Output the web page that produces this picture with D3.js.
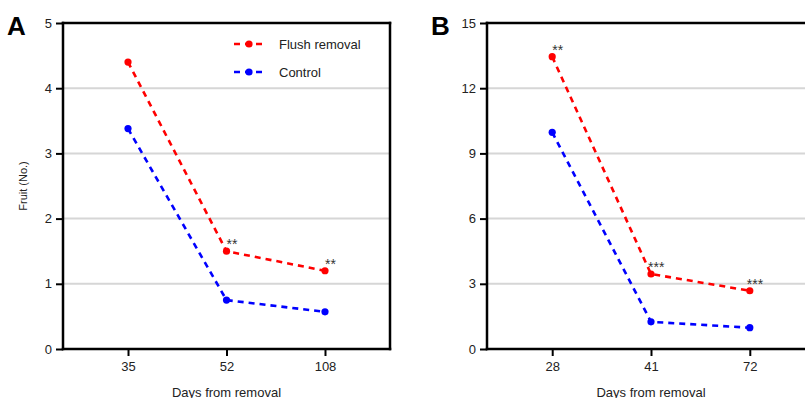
<!DOCTYPE html>
<html>
<head>
<meta charset="utf-8">
<script src="https://cdn.jsdelivr.net/npm/d3@7"></script>
<style>
  html, body { margin: 0; padding: 0; background: #fff; overflow: hidden; }
  svg { display: block; font-family: 'Liberation Sans', Arial, sans-serif; }
</style>
</head>
<body>
<svg id="chart" width="805" height="398"></svg>
<script>
// Panel A data
const daysA = ['35', '52', '108'];
const flushA = [4.4, 1.5, 1.2];
const controlA = [3.38, 0.75, 0.57];
const starsA = ['', '**', '**'];
const ticksA = [0, 1, 2, 3, 4, 5];

// Panel B data
const daysB = ['28', '41', '72'];
const flushB = [13.45, 3.45, 2.68];
const controlB = [9.97, 1.25, 0.98];
const starsB = ['**', '***', '***'];
const ticksB = [0, 3, 6, 9, 12, 15];

const seriesNames = ['Flush removal', 'Control'];
const colors = ['#ff0000', '#0000ff'];

const svg = d3.select('#chart');

function drawPanel(opts) {
  const { left, right, top, bottom, days, series, stars, ticks, yMax, letter, showYLabel, showRight, legend } = opts;

  const g = svg.append('g');

  const x = d3.scalePoint()
    .domain(days)
    .range([left, right])
    .padding(0.66);

  const y = d3.scaleLinear()
    .domain([0, yMax])
    .range([bottom, top]);

  const gridRight = showRight ? right : 810;

  // Grid lines
  g.append('g')
    .selectAll('line')
    .data(ticks.filter((t) => t > 0))
    .enter().append('line')
    .attr('x1', left)
    .attr('x2', gridRight)
    .attr('y1', (d) => y(d))
    .attr('y2', (d) => y(d))
    .attr('stroke', '#d6d6d6')
    .attr('stroke-width', 2);

  // Y axis
  const yAxis = d3.axisLeft(y).tickValues(ticks).tickFormat(d3.format('d')).tickSize(7).tickPadding(4);
  const yg = g.append('g')
    .attr('transform', 'translate(' + left + ',0)')
    .call(yAxis);
  yg.select('.domain').remove();
  yg.selectAll('.tick line').attr('stroke', '#000').attr('stroke-width', 2);
  yg.selectAll('.tick text').attr('font-size', 13).attr('fill', '#222')
    .attr('font-family', "'Liberation Sans', Arial, sans-serif");

  // X axis
  const xAxis = d3.axisBottom(x).tickSize(7).tickPadding(6);
  const xg = g.append('g')
    .attr('transform', 'translate(0,' + bottom + ')')
    .call(xAxis);
  xg.select('.domain').remove();
  xg.selectAll('.tick line').attr('stroke', '#000').attr('stroke-width', 2);
  xg.selectAll('.tick text').attr('font-size', 13).attr('fill', '#222')
    .attr('font-family', "'Liberation Sans', Arial, sans-serif");

  // Frame (open on the right when the panel runs off the page)
  const frame = g.append('g')
    .attr('stroke', '#000')
    .attr('stroke-width', 2.5)
    .attr('stroke-linecap', 'square');
  frame.append('line').attr('x1', left).attr('x2', left).attr('y1', top).attr('y2', bottom);
  frame.append('line').attr('x1', left).attr('x2', gridRight).attr('y1', top).attr('y2', top);
  frame.append('line').attr('x1', left).attr('x2', gridRight).attr('y1', bottom).attr('y2', bottom);
  if (showRight) {
    frame.append('line').attr('x1', right).attr('x2', right).attr('y1', top).attr('y2', bottom);
  }

  // Lines and markers
  const line = d3.line()
    .x((d, i) => x(days[i]))
    .y((d) => y(d));

  series.forEach((vals, si) => {
    g.append('path')
      .datum(vals)
      .attr('d', line)
      .attr('fill', 'none')
      .attr('stroke', colors[si])
      .attr('stroke-width', 2.6)
      .attr('stroke-dasharray', '6,5');
    g.append('g')
      .selectAll('circle')
      .data(vals)
      .enter().append('circle')
      .attr('cx', (d, i) => x(days[i]))
      .attr('cy', (d) => y(d))
      .attr('r', 3.6)
      .attr('fill', colors[si]);
  });

  // Significance stars
  g.append('g')
    .selectAll('text')
    .data(stars)
    .enter().append('text')
    .attr('x', (d, i) => x(days[i]) - (d.length > 2 ? 3 : 0))
    .attr('y', (d, i) => y(series[0][i]) - 2)
    .attr('font-size', 14)
    .attr('fill', '#333')
    .text((d) => d);

  // Panel letter
  g.append('text')
    .attr('x', left - 56)
    .attr('y', top + 12)
    .attr('font-size', 26)
    .attr('font-weight', 'bold')
    .text(letter);

  // X label
  g.append('text')
    .attr('x', x(days[1]))
    .attr('y', 397)
    .attr('text-anchor', 'middle')
    .attr('font-size', 13)
    .attr('fill', '#222')
    .text('Days from removal');

  if (showYLabel) {
    g.append('text')
      .attr('transform', 'translate(27,' + ((top + bottom) / 2) + ') rotate(-90)')
      .attr('text-anchor', 'middle')
      .attr('font-size', 11)
      .attr('fill', '#222')
      .text('Fruit (No.)');
  }

  if (legend) {
    const lg = g.append('g');
    seriesNames.forEach((name, i) => {
      const ly = 44 + i * 28;
      lg.append('line')
        .attr('x1', 234).attr('x2', 264)
        .attr('y1', ly).attr('y2', ly)
        .attr('stroke', colors[i])
        .attr('stroke-width', 2.6)
        .attr('stroke-dasharray', '6,5');
      lg.append('circle')
        .attr('cx', 249).attr('cy', ly).attr('r', 3.6)
        .attr('fill', colors[i]);
      lg.append('text')
        .attr('x', 279).attr('y', ly + 5)
        .attr('font-size', 13)
        .attr('fill', '#222')
        .text(name);
    });
  }
}

drawPanel({
  left: 63, right: 390, top: 23, bottom: 349,
  days: daysA, series: [flushA, controlA], stars: starsA,
  ticks: ticksA, yMax: 5, letter: 'A', showYLabel: true, showRight: true, legend: true,
});

drawPanel({
  left: 487, right: 815, top: 23, bottom: 349,
  days: daysB, series: [flushB, controlB], stars: starsB,
  ticks: ticksB, yMax: 15, letter: 'B', showYLabel: false, showRight: false, legend: false,
});
</script>
</body>
</html>
